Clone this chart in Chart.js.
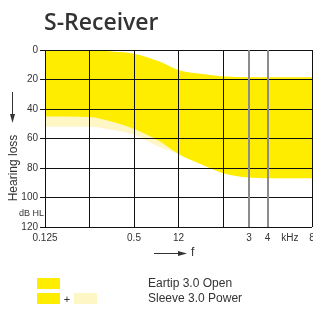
<!DOCTYPE html>
<html>
<head>
<meta charset="utf-8">
<script src="https://cdn.jsdelivr.net/npm/chart.js@4/dist/chart.umd.min.js"></script>
<style>
  body { margin: 0; background: #fff; }
  #c { display: block; }
</style>
</head>
<body>
<canvas id="c" width="313" height="309"></canvas>
<script>
// frequencies in kHz
const freqs = [0.125, 0.25, 0.35, 0.5, 0.75, 1, 1.5, 2, 3, 4, 8];
// Eartip 3.0 Open range (dB HL)
const openTop    = [0, 0, 1, 2.5, 8, 13.5, 16.5, 18, 18.5, 18.5, 18.5];
const openBottom = [45, 45.5, 48.5, 53.5, 62, 70.5, 78.5, 83.5, 86.5, 87, 87];
// Sleeve 3.0 Power extends lower boundary
const powerBottom = [52, 52, 54, 57.5, 66, 70.5, 78.5, 83.5, 86.5, 87, 87];

const xTicks  = [0.125, 0.25, 0.5, 1, 2, 3, 4, 5.66, 8];
const xLabels = ['0.125', '', '0.5', '12', '', '3', '4', 'kHz', '8'];
const yTicks  = [0, 20, 40, 60, 80, 100, 120];

const YELLOW = '#ffed00';
const LIGHT = '#fff6c6';
const TXT = '#333';

function pts(arr) { return freqs.map((f, i) => ({ x: f, y: arr[i] })); }

const band = (data, fill, color) => ({
  data: pts(data),
  borderWidth: 0,
  pointRadius: 0,
  fill: fill,
  backgroundColor: color,
  cubicInterpolationMode: 'monotone'
});

const extras = {
  id: 'extras',
  afterDatasetsDraw(chart) {
    // grid goes on top of the filled areas
    chart.scales.y.drawGrid(chart.chartArea);
    chart.scales.x.drawGrid(chart.chartArea);
  },
  afterDraw(chart) {
    const c = chart.ctx;
    c.save();
    c.fillStyle = TXT;
    c.strokeStyle = TXT;
    // title
    c.font = '600 23px "Open Sans"';
    c.textBaseline = 'alphabetic';
    c.textAlign = 'left';
    c.fillText('S-Receiver', 44, 30);

    // y axis title, rotated
    c.save();
    c.translate(17, 168);
    c.rotate(-Math.PI / 2);
    c.font = '12px "Liberation Sans"';
    c.textAlign = 'center';
    c.fillText('Hearing loss', 0, 0);
    c.restore();
    // down arrow
    c.lineWidth = 1;
    c.beginPath();
    c.moveTo(12.5, 92); c.lineTo(12.5, 116); c.stroke();
    c.beginPath();
    c.moveTo(10, 114); c.lineTo(15, 114); c.lineTo(12.5, 123); c.closePath(); c.fill();

    c.font = '9px "Liberation Sans"';
    c.textAlign = 'right';
    c.textBaseline = 'middle';
    c.fillText('dB HL', 44, 214);

    // f arrow
    c.beginPath();
    c.moveTo(154, 253.5); c.lineTo(180, 253.5); c.stroke();
    c.beginPath();
    c.moveTo(178, 251); c.lineTo(187, 253.5); c.lineTo(178, 256); c.closePath(); c.fill();
    c.font = '12px "Liberation Sans"';
    c.textAlign = 'left';
    c.fillText('f', 191, 253);

    // legend
    c.fillStyle = YELLOW;
    c.fillRect(37, 278, 23, 11);
    c.fillRect(37, 293, 23, 11);
    c.fillStyle = LIGHT;
    c.fillRect(74, 293, 23, 11);
    c.fillStyle = TXT;
    c.font = '11px "Liberation Sans"';
    c.textAlign = 'center';
    c.fillText('+', 67, 300);
    c.font = '12px "Liberation Sans"';
    c.textAlign = 'left';
    c.fillText('Eartip 3.0 Open', 148, 284);
    c.fillText('Sleeve 3.0 Power', 148, 299);
    c.restore();
  }
};

new Chart(document.getElementById('c'), {
  type: 'line',
  data: {
    datasets: [
      band(openTop, false, YELLOW),
      band(openBottom, '-1', YELLOW),
      band(openTop, false, LIGHT),
      band(powerBottom, '-1', LIGHT)
    ]
  },
  options: {
    responsive: false,
    animation: false,
    layout: { padding: { left: 0, top: 50, right: 1, bottom: 0 } },
    plugins: { legend: { display: false }, tooltip: { enabled: false } },
    scales: {
      x: {
        type: 'logarithmic',
        min: 0.125,
        max: 8,
        afterBuildTicks: s => { s.ticks = xTicks.map(v => ({ value: v })); },
        afterFit: s => { s.height = 82; s.paddingLeft = 0; s.paddingRight = 0; },
        ticks: {
          autoSkip: false,
          maxRotation: 0,
          padding: 5,
          color: TXT,
          font: { family: 'Liberation Sans', size: 10 },
          callback: (v, i) => xLabels[i]
        },
        grid: {
          drawTicks: false,
          color: ctx => {
            const v = ctx.tick && ctx.tick.value;
            if (v === 5.66) return 'rgba(0,0,0,0)';
            if (v === 3 || v === 4) return '#8c8c8c';
            return '#111';
          },
          lineWidth: ctx => {
            const v = ctx.tick && ctx.tick.value;
            return (v === 3 || v === 4) ? 2 : 1;
          }
        },
        border: { display: false }
      },
      y: {
        type: 'linear',
        reverse: true,
        min: 0,
        max: 120,
        afterBuildTicks: s => { s.ticks = yTicks.map(v => ({ value: v })); },
        afterFit: s => { s.width = 45; s.paddingTop = 0; s.paddingBottom = 0; },
        ticks: {
          padding: 2,
          color: TXT,
          font: { family: 'Liberation Sans', size: 10 }
        },
        grid: { color: '#111', tickLength: 5 },
        border: { display: false }
      }
    }
  },
  plugins: [extras]
});
</script>
</body>
</html>
